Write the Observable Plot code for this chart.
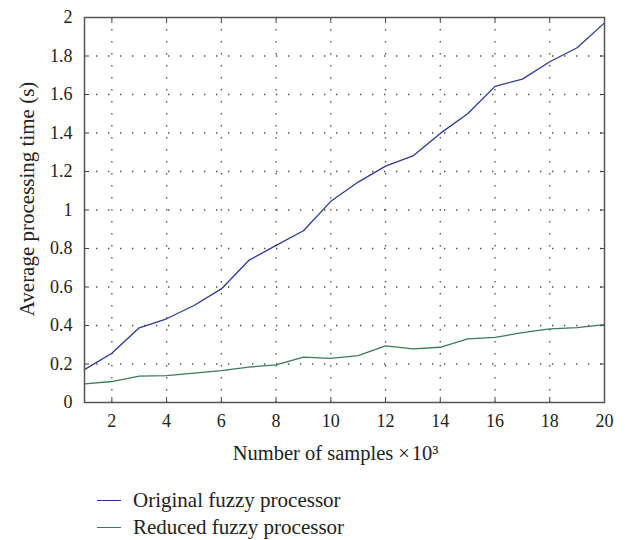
<!DOCTYPE html>
<html>
<head>
<meta charset="utf-8">
<script src="https://cdn.jsdelivr.net/npm/d3@7"></script>
<script src="https://cdn.jsdelivr.net/npm/@observablehq/plot@0.6"></script>
<style>
  body { margin: 0; background: #fff; font-family: 'Liberation Serif', 'DejaVu Serif', serif; }
  svg, svg text { font-family: 'Liberation Serif', 'DejaVu Serif', serif !important; }
  #legend { position: relative; height: 70px; font-size: 21px; line-height: 24px; color: #222; }
  .item { position: absolute; left: 97px; display: flex; align-items: center; }
  .sw { width: 24px; height: 0; border-top: 1.4px solid; margin-right: 12px; }
</style>
</head>
<body>
<div id="chart"></div>
<div id="legend"></div>
<script>
const samples = [1,2,3,4,5,6,7,8,9,10,11,12,13,14,15,16,17,18,19,20];
const original = [0.171,0.256,0.388,0.435,0.504,0.59,0.738,0.816,0.892,1.045,1.145,1.228,1.281,1.398,1.50,1.642,1.68,1.77,1.843,1.972];
const reduced = [0.097,0.109,0.137,0.14,0.153,0.166,0.184,0.195,0.236,0.229,0.243,0.294,0.279,0.287,0.33,0.338,0.363,0.382,0.389,0.405];
const seriesNames = ["Original fuzzy processor", "Reduced fuzzy processor"];
const seriesColors = ["#2f3a93", "#3c7a5a"];
const xTicks = [2,4,6,8,10,12,14,16,18,20];
const yTicks = [0,0.2,0.4,0.6,0.8,1,1.2,1.4,1.6,1.8,2];
const yTickLabels = ["0","0.2","0.4","0.6","0.8","1","1.2","1.4","1.6","1.8","2"];
const xLabel = "Number of samples \u00d7\u200a10\u00b3";
const yLabel = "Average processing time (s)";

const data = [];
samples.forEach((s, i) => {
  data.push({x: s, y: original[i], series: seriesNames[0]});
  data.push({x: s, y: reduced[i], series: seriesNames[1]});
});

const gridColor = "#333";
const chart = Plot.plot({
  width: 625,
  height: 470,
  marginLeft: 84,
  marginRight: 21,
  marginTop: 17,
  marginBottom: 68,
  style: {fontSize: "18px", color: "#222", background: "#fff"},
  x: {domain: [1, 20]},
  y: {domain: [0, 2]},
  color: {domain: seriesNames, range: seriesColors},
  marks: [
    Plot.gridX(xTicks.slice(0, -1), {stroke: gridColor, strokeOpacity: 0.85, strokeWidth: 1.3, strokeDasharray: "1.4,10.6"}),
    Plot.gridY(yTicks.slice(1, -1), {stroke: gridColor, strokeOpacity: 0.85, strokeWidth: 1.3, strokeDasharray: "1.4,10.6"}),
    Plot.line(data, {x: "x", y: "y", stroke: "series", strokeWidth: 1.3}),
    Plot.axisX(xTicks, {anchor: "bottom", tickSize: 0, tickPadding: 12, label: null}),
    Plot.axisX(xTicks, {anchor: "bottom", tickSize: -5, tickFormat: () => "", label: null, stroke: "#444"}),
    Plot.axisX(xTicks, {anchor: "top", tickSize: -5, tickFormat: () => "", label: null, stroke: "#444"}),
    Plot.axisY(yTicks, {anchor: "left", tickSize: 0, tickPadding: 12, tickFormat: (d, i) => yTickLabels[i], label: null}),
    Plot.axisY(yTicks, {anchor: "left", tickSize: -5, tickFormat: () => "", label: null, stroke: "#444"}),
    Plot.axisY(yTicks, {anchor: "right", tickSize: -5, tickFormat: () => "", label: null, stroke: "#444"}),
    Plot.text([xLabel], {text: d => d, frameAnchor: "bottom", textAnchor: "middle", lineAnchor: "middle", dy: 51, dx: -9, fontSize: 20.5, fill: "#222"}),
    Plot.text([yLabel], {text: d => d, frameAnchor: "left", textAnchor: "middle", lineAnchor: "middle", rotate: -90, dx: -57, dy: -11, fontSize: 21, fill: "#222"}),
    Plot.frame({stroke: "#555", strokeWidth: 1.5})
  ]
});
document.getElementById("chart").appendChild(chart);

const legend = document.getElementById("legend");
seriesNames.forEach((n, i) => {
  const item = document.createElement("div");
  item.className = "item";
  item.style.top = (18 + i * 27) + "px";
  const sw = document.createElement("span");
  sw.className = "sw";
  sw.style.borderTopColor = seriesColors[i];
  const t = document.createElement("span");
  t.textContent = n;
  item.appendChild(sw);
  item.appendChild(t);
  legend.appendChild(item);
});
</script>
</body>
</html>
